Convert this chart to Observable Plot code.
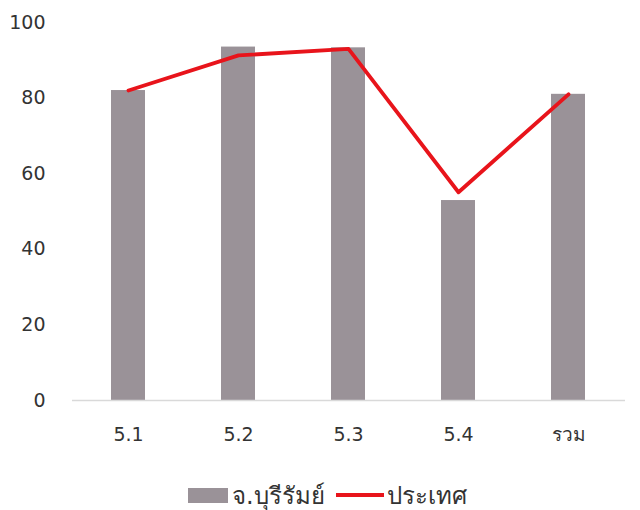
<!DOCTYPE html>
<html>
<head>
<meta charset="utf-8">
<script src="https://cdn.jsdelivr.net/npm/d3@7"></script>
<script src="https://cdn.jsdelivr.net/npm/@observablehq/plot@0.6"></script>
<style>
  html, body { margin: 0; padding: 0; background: #fff; }
  #chart { width: 640px; }
  .legend { display: flex; align-items: center; justify-content: flex-start; padding-left: 188px; height: 30px; margin-top: 18px; font-family: Tahoma, "DejaVu Sans", sans-serif; font-size: 24px; color: #333; }
  .sw-bar { width: 40px; height: 15px; background: #9a9298; margin-right: 4px; }
  .sw-line { width: 48px; height: 4px; background: #e8141b; margin-left: 11px; margin-right: 3px; }
</style>
</head>
<body>
<div id="chart"></div>
<script>
const categories = ["5.1", "5.2", "5.3", "5.4", "รวม"];
const buriramValues = [82.0, 93.5, 93.3, 52.9, 81.0];
const countryValues = [82.0, 91.3, 93.0, 55.1, 81.0];
const yTicks = [0, 20, 40, 60, 80, 100];
const seriesNames = ["จ.บุรีรัมย์", "ประเทศ"];

const rows = categories.map((c, i) => ({cat: c, bar: buriramValues[i], line: countryValues[i]}));

const chart = Plot.plot({
  width: 640,
  height: 462,
  marginTop: 22,
  marginBottom: 62,
  marginLeft: 72,
  marginRight: 15,
  style: {fontFamily: "Tahoma, 'DejaVu Sans', sans-serif", fontSize: "19px", color: "#333", background: "#fff"},
  x: {domain: categories, paddingInner: 0.69, paddingOuter: 0.345, label: null},
  y: {domain: [0, 100], ticks: yTicks, label: null},
  marks: [
    Plot.barY(rows, {x: "cat", y: "bar", fill: "#9a9298"}),
    Plot.ruleY([0], {stroke: "#d9d9d9", strokeWidth: 1.5}),
    Plot.line(rows, {x: "cat", y: "line", stroke: "#e8141b", strokeWidth: 3.8, strokeLinejoin: "round", strokeLinecap: "round"}),
    Plot.axisY({ticks: yTicks, tickSize: 0, tickPadding: 27, fontSize: 19, fill: "#333"}),
    Plot.axisX({tickSize: 0, tickPadding: 27, fontSize: 19, fill: "#333"})
  ]
});
document.getElementById("chart").appendChild(chart);

const legend = document.createElement("div");
legend.className = "legend";
legend.innerHTML = `<span class="sw-bar"></span><span>${seriesNames[0]}</span><span class="sw-line"></span><span>${seriesNames[1]}</span>`;
document.getElementById("chart").appendChild(legend);
</script>
</body>
</html>
